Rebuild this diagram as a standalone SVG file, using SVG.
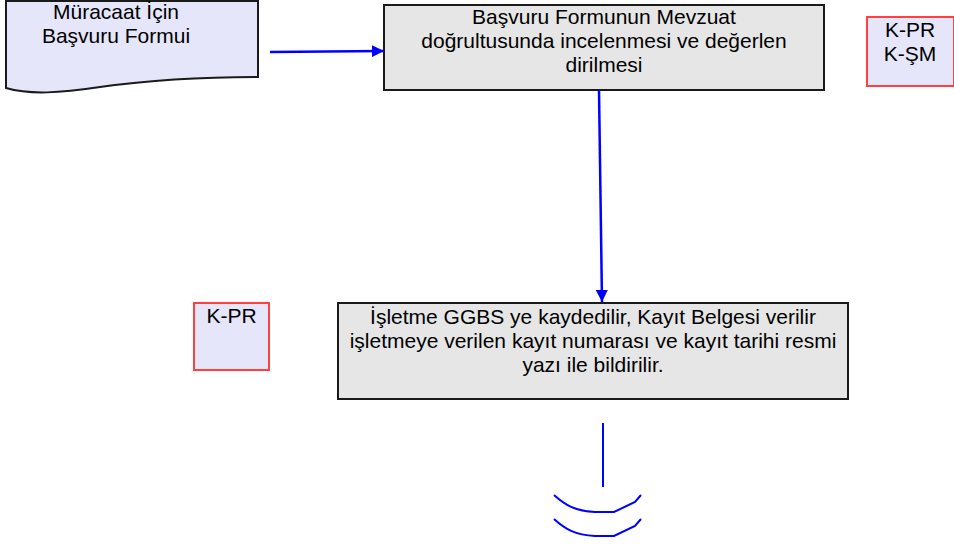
<svg xmlns="http://www.w3.org/2000/svg" width="954" height="544" viewBox="0 0 954 544">
<defs>
<style>
text{font-family:"Liberation Sans",Arial,sans-serif;font-size:21px;fill:#000;text-anchor:middle}
.doc{fill:#E6E6FA;stroke:#1a1a1a;stroke-width:2}
.proc{fill:#E6E6E6;stroke:#1a1a1a;stroke-width:2}
.ref{fill:#E6E6FA;stroke:#FF4040;stroke-width:2}
.conn{stroke:#0000FF;stroke-width:2.5;fill:none}
.end{stroke:#0000FF;stroke-width:2;fill:none}
</style>
<marker id="ah" viewBox="0 0 10 10" refX="10" refY="5" markerWidth="12" markerHeight="12" markerUnits="userSpaceOnUse" orient="auto">
<path d="M0,0 L10,5 L0,10 Z" fill="#0000FF"/>
</marker>
</defs>
<g id="doc1">
<path class="doc" d="M6,1 H258 V77 C200,77 150,80 100,87 C60,93 30,95 6,88 Z"/>
<text x="116" y="19">Müracaat İçin</text>
<text x="116" y="43">Başvuru Formui</text>
</g>
<g id="proc1">
<rect class="proc" x="384" y="5" width="440" height="85"/>
<text x="604" y="24">Başvuru Formunun Mevzuat</text>
<text x="604" y="48">doğrultusunda incelenmesi ve değerlen</text>
<text x="604" y="72">dirilmesi</text>
</g>
<g id="ref1">
<rect class="ref" x="867" y="17" width="87" height="69"/>
<text x="910" y="37">K-PR</text>
<text x="910" y="61">K-ŞM</text>
</g>
<g id="ref2">
<rect class="ref" x="194" y="303" width="75" height="67"/>
<text x="231.5" y="323">K-PR</text>
</g>
<g id="proc2">
<rect class="proc" x="338" y="303" width="510" height="96"/>
<text x="593" y="324">İşletme GGBS ye kaydedilir, Kayıt Belgesi verilir</text>
<text x="593" y="348">işletmeye verilen kayıt numarası ve kayıt tarihi resmi</text>
<text x="593" y="372">yazı ile bildirilir.</text>
</g>
<g id="connectors">
<line class="conn" x1="270" y1="52" x2="384" y2="51" marker-end="url(#ah)"/>
<line class="conn" x1="599" y1="90" x2="602" y2="302" marker-end="url(#ah)"/>
</g>
<g id="end">
<line class="end" x1="603" y1="423" x2="603" y2="487"/>
<path class="end" d="M554,495 C565,505 575,511 595,512 L614,512 L635,502 L641,495"/>
<path class="end" d="M554,519 C565,529 575,535 595,536 L614,536 L635,526 L641,519"/>
</g>
</svg>
